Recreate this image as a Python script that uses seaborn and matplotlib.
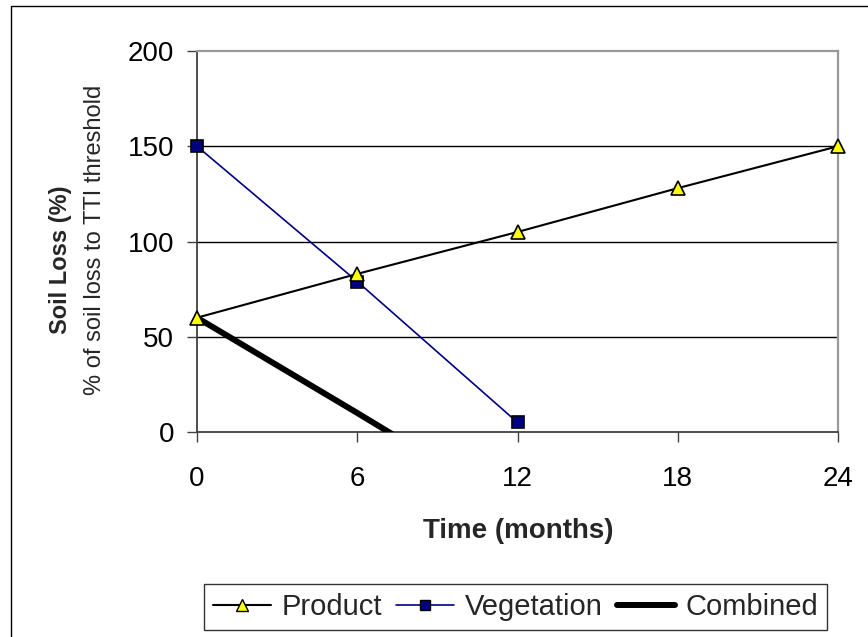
import matplotlib
matplotlib.use("Agg")
import matplotlib.pyplot as plt
from matplotlib.patches import Rectangle
import seaborn as sns
import pandas as pd

# Soil loss over time, as % of the soil loss at the TTI threshold
months = [0, 6, 12, 18, 24]
product = [60, 83, 105, 128, 150]
veg_months = [0, 6, 12]
vegetation = [150, 79, 5]
comb_months = [0, 6, 12]
combined = [60, 10, -41]

x_ticks = [0, 6, 12, 18, 24]
y_ticks = [0, 50, 100, 150, 200]

sns.set_style("white")
plt.rcParams["font.family"] = ["Liberation Sans", "DejaVu Sans"]

W, H = 868, 637
fig = plt.figure(figsize=(W / 100, H / 100), dpi=100)
fig.patch.set_facecolor("white")

L, R, T, B = 197, 838, 51, 432
ax = fig.add_axes([L / W, 1 - B / H, (R - L) / W, (B - T) / H])

df_p = pd.DataFrame({"t": months, "v": product})
df_v = pd.DataFrame({"t": veg_months, "v": vegetation})
df_c = pd.DataFrame({"t": comb_months, "v": combined})

sns.lineplot(data=df_c, x="t", y="v", ax=ax, color="black", lw=4.3,
             zorder=3, solid_capstyle="butt")
sns.lineplot(data=df_v, x="t", y="v", ax=ax, color="#000080", lw=1.2,
             marker="s", markersize=8, markerfacecolor="#000080",
             markeredgecolor="black", markeredgewidth=1.2, clip_on=False,
             zorder=4)
sns.lineplot(data=df_p, x="t", y="v", ax=ax, color="black", lw=1.5,
             marker="^", markersize=10, markerfacecolor="#FFFF00",
             markeredgecolor="black", markeredgewidth=1.2, clip_on=False,
             zorder=5)

ax.set_xlim(0, 24)
ax.set_ylim(0, 200)
ax.set_xticks(x_ticks)
ax.set_yticks(y_ticks)
ax.set_xticklabels([str(v) for v in x_ticks])
ax.set_yticklabels([str(v) for v in y_ticks])
ax.set_xlabel("")
ax.set_ylabel("")

# horizontal gridlines
for yv in y_ticks[1:-1]:
    ax.axhline(yv, color="black", lw=1.0, zorder=1)

for side in ["left", "bottom"]:
    ax.spines[side].set_color("#404040")
    ax.spines[side].set_linewidth(1.3)
for side in ["top", "right"]:
    ax.spines[side].set_color("#999999")
    ax.spines[side].set_linewidth(1.6)

ax.tick_params(axis="both", which="major", direction="out", length=7.5,
               width=1.0, color="#404040", labelsize=20, colors="black")
ax.tick_params(axis="x", pad=17)
ax.tick_params(axis="y", pad=9)
ax.tick_params(left=True, bottom=True)

fig.text(60 / W, 1 - 260 / H, "Soil Loss (%)", rotation=90, ha="center",
         va="center", fontsize=17, fontweight="bold")
fig.text(95 / W, 1 - 240 / H, "% of soil loss to TTI threshold", rotation=90,
         ha="center", va="center", fontsize=17)
fig.text(518 / W, 1 - 531 / H, "Time (months)", ha="center", va="center",
         fontsize=20, fontweight="bold")

handles = [
    plt.Line2D([], [], color="black", lw=1.5, marker="^", markersize=8,
               markerfacecolor="#FFFF00", markeredgecolor="black"),
    plt.Line2D([], [], color="#000080", lw=1.2, marker="s", markersize=7,
               markerfacecolor="#000080", markeredgecolor="black"),
    plt.Line2D([], [], color="black", lw=4.3),
]
leg = fig.legend(handles, ["Product", "Vegetation", "Combined"], ncol=3,
                 loc="center", bbox_to_anchor=(515.5 / W, 1 - 607 / H),
                 fontsize=21, frameon=True, fancybox=False, shadow=False,
                 handlelength=2.0, handletextpad=0.37, columnspacing=0.47,
                 borderpad=0.3)
leg.get_frame().set_edgecolor("black")
leg.get_frame().set_linewidth(1.0)

# outer chart border (left and top edges)
fig.patches.append(Rectangle((11 / W, -0.5), 2.0, 0.5 + (1 - 6 / H),
                             transform=fig.transFigure, fill=False,
                             edgecolor="black", lw=1.0))

fig.savefig("out.png", dpi=100, facecolor="white")
